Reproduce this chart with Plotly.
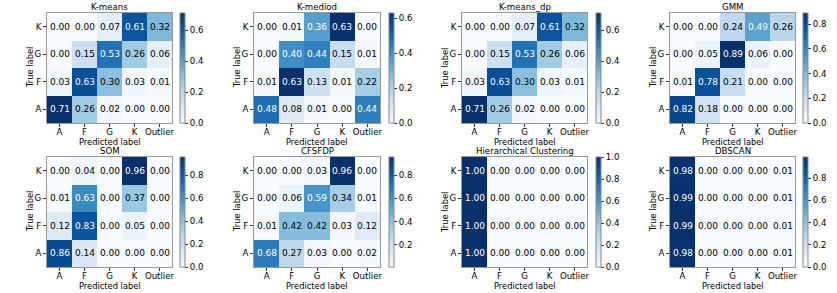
import plotly.graph_objects as go

W, H = 837, 293

pred_labels = ["A", "F", "G", "K", "Outlier"]
true_labels = ["A", "F", "G", "K"]
titles = ["K-means", "K-mediod", "K-means_dp", "GMM",
          "SOM", "CFSFDP", "Hierarchical Clustering", "DBSCAN"]

# rows: true label A, F, G, K ; columns: predicted A, F, G, K, Outlier
kmeans = [[0.71, 0.26, 0.02, 0.00, 0.00],
          [0.03, 0.63, 0.30, 0.03, 0.01],
          [0.00, 0.15, 0.53, 0.26, 0.06],
          [0.00, 0.00, 0.07, 0.61, 0.32]]
kmediod = [[0.48, 0.08, 0.01, 0.00, 0.44],
           [0.01, 0.63, 0.13, 0.01, 0.22],
           [0.00, 0.40, 0.44, 0.15, 0.01],
           [0.00, 0.01, 0.36, 0.63, 0.00]]
kmeans_dp = [[0.71, 0.26, 0.02, 0.00, 0.00],
             [0.03, 0.63, 0.30, 0.03, 0.01],
             [0.00, 0.15, 0.53, 0.26, 0.06],
             [0.00, 0.00, 0.07, 0.61, 0.32]]
gmm = [[0.82, 0.18, 0.00, 0.00, 0.00],
       [0.01, 0.78, 0.21, 0.00, 0.00],
       [0.00, 0.05, 0.89, 0.06, 0.00],
       [0.00, 0.00, 0.24, 0.49, 0.26]]
som = [[0.86, 0.14, 0.00, 0.00, 0.00],
       [0.12, 0.83, 0.00, 0.05, 0.00],
       [0.01, 0.63, 0.00, 0.37, 0.00],
       [0.00, 0.04, 0.00, 0.96, 0.00]]
cfsfdp = [[0.68, 0.27, 0.03, 0.00, 0.02],
          [0.01, 0.42, 0.42, 0.03, 0.12],
          [0.00, 0.06, 0.59, 0.34, 0.01],
          [0.00, 0.00, 0.03, 0.96, 0.00]]
hier = [[1.00, 0.00, 0.00, 0.00, 0.00],
        [1.00, 0.00, 0.00, 0.00, 0.00],
        [1.00, 0.00, 0.00, 0.00, 0.00],
        [1.00, 0.00, 0.00, 0.00, 0.00]]
dbscan = [[0.98, 0.00, 0.00, 0.00, 0.01],
          [0.99, 0.00, 0.00, 0.00, 0.01],
          [0.99, 0.00, 0.00, 0.00, 0.01],
          [0.98, 0.00, 0.00, 0.00, 0.01]]
matrices = [kmeans, kmediod, kmeans_dp, gmm, som, cfsfdp, hier, dbscan]
# lower end of each colour scale (CFSFDP's smallest value is just above zero)
color_min = [0.0, 0.0, 0.0, 0.0, 0.0, 0.005, 0.0, 0.0]

blues = [[0.0, "#f7fbff"], [0.125, "#deebf7"], [0.25, "#c6dbef"],
         [0.375, "#9ecae1"], [0.5, "#6baed6"], [0.625, "#4292c6"],
         [0.75, "#2171b5"], [0.875, "#08519c"], [1.0, "#08306b"]]

FONT = "DejaVu Sans"
FS = 8.6
FS_AX = 8.3

# pixel layout
col_left = [47, 254, 462, 670]
col_right = [172, 380, 587, 795]
cbar_left = [180, 389, 596, 803]
row_top = [13, 157]
row_bot = [123, 267]

fig = go.Figure()
annotations = []
layout_axes = {}

for k, (title, m) in enumerate(zip(titles, matrices)):
    r, c = divmod(k, 4)
    ax = k + 1
    xname = "x" if ax == 1 else f"x{ax}"
    yname = "y" if ax == 1 else f"y{ax}"
    zmax = max(max(row) for row in m)
    zmin = color_min[k]
    fig.add_trace(go.Heatmap(
        z=m, x=list(range(len(pred_labels))), y=list(range(len(true_labels))),
        colorscale=blues, zmin=zmin, zmax=zmax, xaxis=xname, yaxis=yname,
        hoverinfo="skip",
        colorbar=dict(
            x=cbar_left[c] / W, xanchor="left", xref="paper",
            y=1 - row_top[r] / H, yanchor="top", yref="paper",
            len=row_bot[r] - row_top[r], lenmode="pixels",
            thickness=5, xpad=0, ypad=0,
            outlinewidth=1, outlinecolor="#888888",
            ticks="outside", ticklen=3, tickwidth=1, tickcolor="#333333",
            dtick=0.2, tick0=0, tickformat=".1f",
            tickfont=dict(family=FONT, size=FS, color="black"),
        ),
    ))
    xd = [col_left[c] / W, col_right[c] / W]
    yd = [1 - row_bot[r] / H, 1 - row_top[r] / H]
    axkey_x = "xaxis" if ax == 1 else f"xaxis{ax}"
    axkey_y = "yaxis" if ax == 1 else f"yaxis{ax}"
    layout_axes[axkey_x] = dict(
        domain=xd, anchor=yname, range=[-0.5, 4.5],
        tickvals=list(range(len(pred_labels))), ticktext=pred_labels,
        ticks="outside", ticklen=3, tickcolor="#333333",
        ticklabelstandoff=-2,
        showline=True, linecolor="#999999", linewidth=1, mirror=True,
        showgrid=False, zeroline=False, automargin=False,
        tickfont=dict(family=FONT, size=FS, color="black"),
    )
    layout_axes[axkey_y] = dict(
        domain=yd, anchor=xname, range=[-0.5, 3.5],
        tickvals=list(range(len(true_labels))), ticktext=true_labels,
        ticks="outside", ticklen=3, tickcolor="#333333",
        showline=True, linecolor="#999999", linewidth=1, mirror=True,
        showgrid=False, zeroline=False, automargin=False,
        tickfont=dict(family=FONT, size=FS, color="black"),
    )
    thresh = zmax / 2
    for i, row in enumerate(m):
        for j, v in enumerate(row):
            annotations.append(dict(
                x=j, y=i, xref=xname, yref=yname, text=f"{v:.2f}",
                showarrow=False,
                font=dict(family=FONT, size=FS + 0.4,
                          color="white" if v > thresh else "black"),
            ))
    cx = (col_left[c] + col_right[c]) / 2 / W
    # title
    annotations.append(dict(
        x=cx, y=1 - row_top[r] / H, xref="paper", yref="paper",
        text=title, showarrow=False, xanchor="center", yanchor="bottom",
        borderpad=0, font=dict(family=FONT, size=FS, color="black")))
    # x axis title
    annotations.append(dict(
        x=cx, y=1 - (row_bot[r] + 12.5) / H, xref="paper", yref="paper",
        text="Predicted label", showarrow=False, xanchor="center",
        yanchor="top", borderpad=0,
        font=dict(family=FONT, size=FS_AX, color="black")))
    # y axis title
    annotations.append(dict(
        x=(col_left[c] - 17) / W, y=1 - (row_top[r] + row_bot[r]) / 2 / H,
        xref="paper", yref="paper", text="True label", showarrow=False,
        textangle=-90, xanchor="center", yanchor="middle",
        font=dict(family=FONT, size=FS_AX, color="black")))

fig.update_layout(
    width=W, height=H,
    margin=dict(l=0, r=0, t=0, b=0, pad=0, autoexpand=False),
    paper_bgcolor="white", plot_bgcolor="white",
    annotations=annotations, showlegend=False, **layout_axes,
)
fig.write_html(
    "out.html",
    config={"displayModeBar": False},
    post_script="document.body.style.margin='0';"
                "document.body.style.overflow='hidden';",
)
